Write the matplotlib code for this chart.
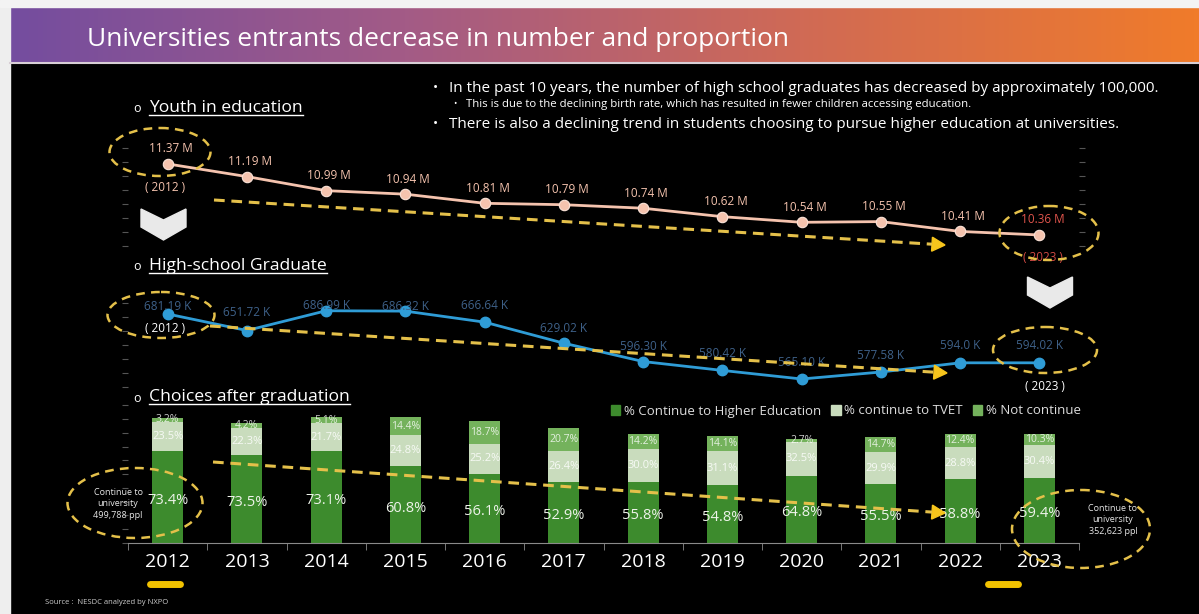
import numpy as np
import matplotlib
matplotlib.use("Agg")
import matplotlib.pyplot as plt
from matplotlib.patches import Ellipse, Polygon, Rectangle
from matplotlib.colors import LinearSegmentedColormap
from matplotlib.ticker import MultipleLocator

plt.rcParams["font.family"] = ["Open Sans", "DejaVu Sans"]

# data
years = [2012, 2013, 2014, 2015, 2016, 2017, 2018, 2019, 2020, 2021, 2022, 2023]
youth_m = [11.37, 11.19, 10.99, 10.94, 10.81, 10.79, 10.74, 10.62, 10.54, 10.55, 10.41, 10.36]
grad_k = [681.19, 651.72, 686.99, 686.32, 666.64, 629.02, 596.30, 580.42, 565.10, 577.58, 594.0, 594.02]
grad_labels = ["681.19 K", "651.72 K", "686.99 K", "686.32 K", "666.64 K", "629.02 K",
               "596.30 K", "580.42 K", "565.10 K", "577.58 K", "594.0 K", "594.02 K"]
pct_higher = [73.4, 73.5, 73.1, 60.8, 56.1, 52.9, 55.8, 54.8, 64.8, 55.5, 58.8, 59.4]
pct_tvet = [23.5, 22.3, 21.7, 24.8, 25.2, 26.4, 30.0, 31.1, 32.5, 29.9, 28.8, 30.4]
pct_not = [3.2, 4.2, 5.1, 14.4, 18.7, 20.7, 14.2, 14.1, 2.7, 14.7, 12.4, 10.3]
legend_labels = ["% Continue to Higher Education", "% continue to TVET", "% Not continue"]

W, H = 1199, 614
fig = plt.figure(figsize=(W / 100, H / 100), dpi=100, facecolor="black")

def axes_at(x0, y0, x1, y1):
    # pixel box (top-left origin) -> figure axes
    return fig.add_axes([x0 / W, 1 - y1 / H, (x1 - x0) / W, (y1 - y0) / H])

x = np.arange(len(years))
c_youth = "#f5c3ae"
c_grad = "#2f9cd6"
c_grad_lbl = "#3e6189"
c_he = "#3d8b2d"
c_tvet = "#c9dcbd"
c_not = "#74b25c"
gold = "#e4c04a"

def style_axis(ax, step, right=False):
    ax.set_facecolor("none")
    ax.set_xlim(-0.5, 11.5)
    for s in ax.spines.values():
        s.set_visible(False)
    ax.set_xticks([])
    ax.yaxis.set_major_locator(MultipleLocator(step))
    ax.tick_params(axis="y", length=4, color="#555555", labelleft=False,
                   right=right, labelright=False)

# youth line
ax1 = axes_at(128, 140, 1079, 260)
style_axis(ax1, 0.2, right=True)
ax1.set_ylim(10.004, 11.71)
ax1.plot(x, youth_m, color=c_youth, lw=2, marker="o", ms=7.5, mfc=c_youth, mec="#fbe3d8", mew=0.8)
for i, v in enumerate(youth_m):
    col = "#e0544c" if i == len(youth_m) - 1 else c_youth
    ax1.annotate(f"{v:.2f} M", (i, v), xytext=(3, 15), textcoords="offset pixels",
                 ha="center", va="center", fontsize=8.5, color=col)
ax1.annotate("( 2012 )", (0, youth_m[0]), xytext=(-3, -24), textcoords="offset pixels",
             ha="center", va="center", fontsize=8.5, color=c_youth)
ax1.annotate("( 2023 )", (11, youth_m[-1]), xytext=(4, -23), textcoords="offset pixels",
             ha="center", va="center", fontsize=8.5, color="#d24a44")

# high-school graduates line
ax2 = axes_at(128, 290, 1079, 400)
style_axis(ax2, 25)
ax2.set_ylim(527.6, 724.05)
ax2.plot(x, grad_k, color=c_grad, lw=2, marker="o", ms=7.5, mfc=c_grad, mec=c_grad)
label_dy = [7, 18, 5, 5, 17, 15, 15, 17, 17, 17, 17, 17]
for i, v in enumerate(grad_k):
    ax2.annotate(grad_labels[i], (i, v), xytext=(0, label_dy[i]), textcoords="offset pixels",
                 ha="center", va="center", fontsize=8.5, color=c_grad_lbl)
ax2.annotate("( 2012 )", (0, grad_k[0]), xytext=(-3, -15), textcoords="offset pixels",
             ha="center", va="center", fontsize=8.5, color="white")
ax2.annotate("( 2023 )", (11, grad_k[-1]), xytext=(6, -24), textcoords="offset pixels",
             ha="center", va="center", fontsize=8.5, color="white")

# stacked bars, scaled by number of graduates
ax3 = axes_at(128, 400, 1079, 543)
style_axis(ax3, 75)
ax3.set_ylim(0, 779)
grad = np.array(grad_k)
he = grad * np.array(pct_higher) / 100
tv = grad * np.array(pct_tvet) / 100
nc = grad * np.array(pct_not) / 100
bw = 0.39
ax3.bar(x, he, bw, color=c_he)
ax3.bar(x, tv, bw, bottom=he, color=c_tvet)
ax3.bar(x, nc, bw, bottom=he + tv, color=c_not)
for i in range(len(years)):
    ax3.text(i, he[i] / 2 - 18, f"{pct_higher[i]:.1f}%", ha="center", va="center",
             fontsize=10.5, color="#eef3ea")
    ax3.text(i, he[i] + tv[i] / 2, f"{pct_tvet[i]:.1f}%", ha="center", va="center",
             fontsize=8, color="white", alpha=0.85)
    ax3.text(i, he[i] + tv[i] + nc[i] / 2, f"{pct_not[i]:.1f}%", ha="center", va="center",
             fontsize=7.5, color="white", alpha=0.8)
ax3.spines["bottom"].set_visible(True)
ax3.spines["bottom"].set_color("#8a8a8a")
ax3.set_xticks(x)
ax3.set_xticklabels([str(y) for y in years], fontsize=14, color="white")
ax3.tick_params(axis="x", which="major", length=0, pad=7)
ax3.set_xticks(np.arange(-0.5, 12, 1), minor=True)
ax3.tick_params(axis="x", which="minor", length=5, color="#8a8a8a", direction="out")

handles = [Rectangle((0, 0), 1, 1, color=c) for c in (c_he, c_tvet, c_not)]
fig.legend(handles, legend_labels, loc="center left", bbox_to_anchor=(611 / W, 1 - 411 / H),
           ncol=3, frameon=False, fontsize=9.5, labelcolor="#dddddd", handlelength=0.7,
           handleheight=0.7, handletextpad=0.25, columnspacing=0.8, borderpad=0, borderaxespad=0)

# overlay in pixel coordinates for the slide decorations
ov = fig.add_axes([0, 0, 1, 1])
ov.set_zorder(10)
ov.patch.set_visible(False)
ov.axis("off")

grad_cmap = LinearSegmentedColormap.from_list("bar", ["#744d9f", "#a35b86", "#d06a55", "#f07b2a"])
ov.imshow(np.linspace(0, 1, 256).reshape(1, -1), cmap=grad_cmap, aspect="auto",
          extent=[10, W, 62, 7])
ov.add_patch(Rectangle((0, 0), 10, H, color="#eeeeee"))
ov.add_patch(Rectangle((0, 0), W, 7, color="#f3f3f3"))
ov.plot([10, W], [63, 63], color="#d8cfd6", lw=1.5)
ov.set_xlim(0, W)
ov.set_ylim(H, 0)

ov.text(87, 40, "Universities entrants decrease in number and proportion", fontsize=19,
        color="white", va="center", ha="left")

bullet_kw = dict(color="white", va="center", ha="left")
ov.text(433, 88, "•", fontsize=10, **bullet_kw)
ov.text(449, 88, "In the past 10 years, the number of high school graduates has decreased by approximately 100,000.",
        fontsize=11, **bullet_kw)
ov.text(453, 104, "•", fontsize=6.5, **bullet_kw)
ov.text(466, 104, "This is due to the declining birth rate, which has resulted in fewer children accessing education.",
        fontsize=8.2, **bullet_kw)
ov.text(433, 125, "•", fontsize=10, **bullet_kw)
ov.text(449, 125, "There is also a declining trend in students choosing to pursue higher education at universities.",
        fontsize=11, **bullet_kw)

# section headings with underline
headings = []
for y, label in [(108, "Youth in education"), (266, "High-school Graduate"), (397, "Choices after graduation")]:
    ov.text(137, y + 1, "o", fontsize=9, color="white", va="center", ha="center")
    headings.append(ov.text(149, y, label, fontsize=12.6, color="white", va="center", ha="left"))
fig.canvas.draw()
renderer = fig.canvas.get_renderer()
inv = ov.transData.inverted()
for t in headings:
    bb = t.get_window_extent(renderer)
    (x0, y0), (x1, _) = inv.transform([(bb.x0, bb.y0), (bb.x1, bb.y1)])
    ov.plot([x0, x1], [y0 - 1, y0 - 1], color="white", lw=1)

# chevrons
for cx, top in [(163.5, 209), (1050, 277)]:
    ov.add_patch(Polygon([(cx - 22.5, top), (cx, top + 11), (cx + 22.5, top), (cx + 22.5, top + 18),
                          (cx, top + 31), (cx - 22.5, top + 18)], closed=True, color="#e9e9e9"))

# dashed highlight ellipses
for cx, cy, w, h in [(160, 152, 101, 48), (1049, 233, 99, 54), (161, 315, 107, 46),
                     (1045, 350, 104, 46), (135, 503, 135, 70), (1081, 529, 138, 78)]:
    ov.add_patch(Ellipse((cx, cy), w, h, fill=False, ec=gold, lw=1.8, ls=(0, (3.5, 2.5))))

# dashed trend arrows
for (sx, sy), (ex, ey) in [((214, 200), (945, 245)), ((210, 326), (947, 373)), ((213, 462), (945, 513))]:
    d = np.array([ex - sx, ey - sy], float)
    d /= np.hypot(*d)
    n = np.array([-d[1], d[0]])
    base = np.array([ex, ey]) - 13 * d
    ov.plot([sx, base[0]], [sy, base[1]], color=gold, lw=2.2, dashes=(3.5, 2.2))
    ov.add_patch(Polygon([(ex, ey), tuple(base + 7 * n), tuple(base - 7 * n)], closed=True, color="#f7c51c"))

ov.text(118, 504, "Continue to\nuniversity\n499,788 ppl", fontsize=6.5, color="#e6e6e6",
        ha="center", va="center", linespacing=1.35)
ov.text(1113, 520, "Continue to\nuniversity\n352,623 ppl", fontsize=6.5, color="#e6e6e6",
        ha="center", va="center", linespacing=1.35)

for x0, x1 in [(150, 180), (988, 1018)]:
    ov.plot([x0, x1], [584, 584], color="#f2c200", lw=5, solid_capstyle="round")

ov.text(45, 602, "Source :  NESDC analyzed by NXPO", fontsize=5.5, color="#cccccc", va="center")

fig.savefig("out.png", dpi=100, facecolor="black")
